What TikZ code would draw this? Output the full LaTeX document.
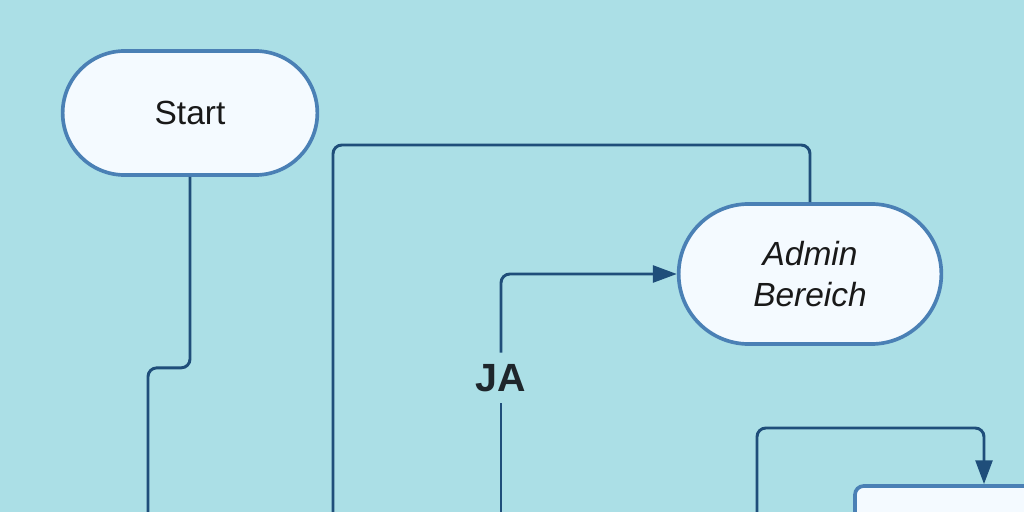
\documentclass[tikz,border=0pt]{standalone}
\usepackage{fontspec}
\setmainfont{Liberation Sans}
\usetikzlibrary{shapes.misc,arrows.meta}
\definecolor{bgblue}{HTML}{ABDFE6}
\definecolor{nodefill}{HTML}{F4FAFF}
\definecolor{nodeborder}{HTML}{4A80B5}
\definecolor{linkblue}{HTML}{1F4E7A}
\definecolor{labeltext}{HTML}{1E262B}
\tikzset{
  terminal/.style={rounded rectangle, draw=nodeborder, fill=nodefill, line width=2.6pt,
    minimum width=6.6cm, minimum height=3.1cm, align=center, text=black!90,
    font=\fontsize{23.8pt}{29.5pt}\selectfont},
  process/.style={rectangle, rounded corners=0.22cm, draw=nodeborder, fill=nodefill,
    line width=2.6pt, minimum width=6.45cm, minimum height=3.7cm},
  link/.style={draw=linkblue, line width=2.1pt, rounded corners=0.22cm},
  arrowlink/.style={link, -{Triangle[length=17pt,width=12pt]}},
  answer/.style={font=\bfseries\fontsize{28pt}{32pt}\selectfont, text=labeltext,
    fill=bgblue, inner sep=0pt, minimum height=1.25cm}
}

\begin{document}
\begin{tikzpicture}[x=0.025cm,y=-0.025cm]
  \fill[bgblue] (0,0) rectangle (1024,512);
  \useasboundingbox (0,0) rectangle (1024,512);
  \clip (0,0) rectangle (1024,512);

  \node[terminal] (start) at (190,113) {Start};
  \node[terminal, minimum width=6.8cm, minimum height=3.5cm] (admin) at (810,274) {\itshape Admin\\\itshape Bereich};
  \node[process] (proc) at (984,560) {};
  \node[answer] (ja) at (501,378) {JA};

  \coordinate (out1) at (148,530);
  \coordinate (in2) at (333,530);
  \coordinate (in3) at (501,530);
  \coordinate (in4) at (757,530);

  \draw[link] (start.south) -- ++(0,191) -| (out1);
  \draw[link] (in2) |- (810,145) -- (admin.north);
  \draw[link] (in3) -- (ja.south);
  \draw[arrowlink] (ja.north) |- (admin.west);
  \draw[arrowlink] (in4) |- (984,428) -- (proc.north);
\end{tikzpicture}
\end{document}
